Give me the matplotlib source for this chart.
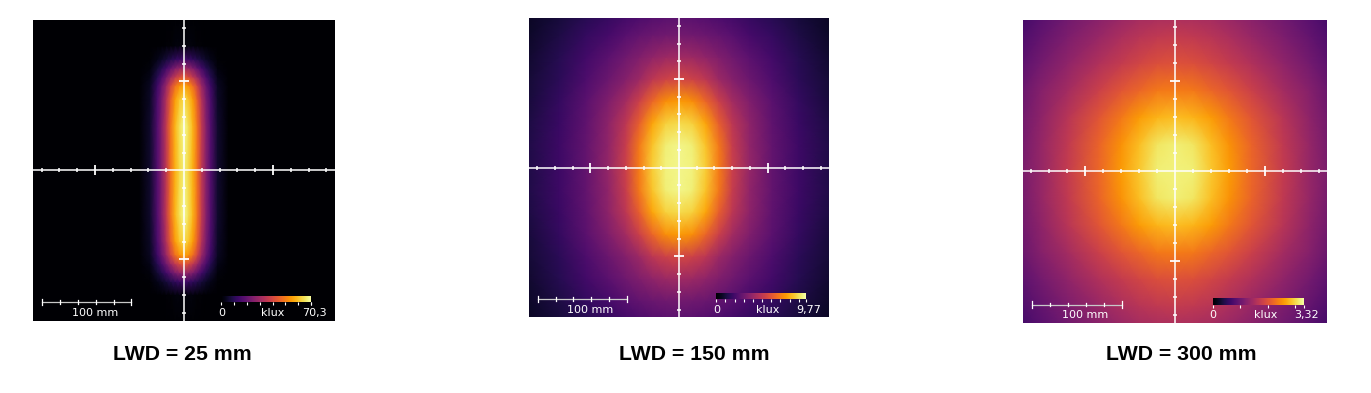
#!/usr/bin/env python3
"""Illuminance maps of a line light at three working distances."""

import numpy as np
import matplotlib
matplotlib.use('Agg')
import matplotlib.pyplot as plt
from matplotlib.ticker import FixedLocator, NullFormatter

W, H = 1371, 393

TITLES = ['LWD = 25 mm', 'LWD = 150 mm', 'LWD = 300 mm']
MAX_LABELS = ['70,3', '9,77', '3,32']
KLUX_MAX = [70.3, 9.77, 3.32]
BAR_STEP = [10, 1, 1]

# Values are percent of each map's maximum, one quadrant
X_25 = [0, 5, 10, 15, 20, 25, 30, 38, 50, 172]
Y_25 = [0, 50, 80, 95, 105, 115, 125, 140, 172]
PCT_25 = [
    [95, 90, 82, 68, 50, 36, 24, 8, 0, 0],
    [98, 92, 83, 69, 51, 36, 24, 8, 0, 0],
    [91, 86, 78, 64, 47, 33, 22, 7, 0, 0],
    [80, 76, 68, 56, 41, 29, 19, 6, 0, 0],
    [62, 58, 51, 42, 31, 22, 14, 4, 0, 0],
    [42, 39, 34, 27, 20, 14, 9, 2, 0, 0],
    [20, 18, 16, 13, 10, 7, 4, 1, 0, 0],
    [2, 2, 2, 1, 1, 0, 0, 0, 0, 0],
    [0, 0, 0, 0, 0, 0, 0, 0, 0, 0],
]

X_150 = [0, 15, 30, 45, 60, 80, 105, 135, 172]
Y_150 = [0, 25, 50, 75, 100, 125, 150, 172]
PCT_150 = [
    [97, 96, 88, 71, 54, 40, 28, 19, 12],
    [97, 95, 86, 70, 53, 39, 28, 19, 12],
    [91, 89, 80, 64, 50, 38, 27, 18, 11],
    [78, 75, 66, 54, 44, 35, 26, 17, 10],
    [57, 55, 50, 42, 36, 30, 23, 15, 9],
    [43, 42, 39, 35, 31, 26, 20, 14, 8],
    [32, 31, 30, 28, 25, 21, 17, 12, 7],
    [25, 25, 24, 22, 20, 17, 14, 10, 6],
]

X_300 = [0, 20, 40, 60, 85, 120, 150, 172]
Y_300 = [0, 30, 60, 90, 120, 150, 172]
PCT_300 = [
    [96, 95, 87, 78, 66, 52, 40, 33],
    [95, 93, 85, 76, 65, 51, 40, 32],
    [85, 83, 78, 70, 61, 49, 38, 31],
    [71, 70, 66, 61, 54, 44, 36, 29],
    [60, 59, 56, 52, 47, 39, 32, 26],
    [52, 51, 49, 46, 41, 34, 28, 23],
    [46, 45, 44, 41, 37, 31, 25, 20],
]

GRIDS = [(X_25, Y_25, PCT_25), (X_150, Y_150, PCT_150), (X_300, Y_300, PCT_300)]

# left, top, right, bottom, centre x, centre y, px per mm (all in image pixels)
PANELS = [
    (32.7, 20.0, 335.0, 320.7, 184.0, 170.3, 0.89),
    (529.0, 18.0, 829.0, 316.7, 679.0, 167.7, 0.887),
    (1023.0, 20.0, 1327.0, 323.0, 1175.3, 171.3, 0.90),
]
TITLE_POS = [(182, 355), (694, 355), (1181, 354.5)]

TEXT_FONT = ['DejaVu Sans']


def mirror(x, y, pct):
    """Unfold a quadrant table into the full map."""
    x = np.asarray(x, dtype=float)
    y = np.asarray(y, dtype=float)
    pct = np.asarray(pct, dtype=float)
    full = np.hstack([pct[:, :0:-1], pct])
    full = np.vstack([full[:0:-1], full])
    return np.r_[-x[:0:-1], x], np.r_[-y[:0:-1], y], full


def draw_panel(fig, i):
    left, top, right, bottom, cx, cy, scale = PANELS[i]
    ax = fig.add_axes([left / W, 1 - bottom / H, (right - left) / W, (bottom - top) / H])

    x, y, pct = mirror(*GRIDS[i])
    vmax = KLUX_MAX[i]
    mesh = ax.pcolormesh(x, y, pct * vmax / 100, cmap='inferno', vmin=0, vmax=vmax,
                         shading='gouraud', rasterized=True)
    ax.set_xlim((left - cx) / scale, (right - cx) / scale)
    ax.set_ylim((cy - bottom) / scale, (cy - top) / scale)

    # Crosshair is the axes itself, with mm ticks
    for name in ['top', 'right']:
        ax.spines[name].set_visible(False)
    for name in ['left', 'bottom']:
        ax.spines[name].set_position('zero')
        ax.spines[name].set_color('white')
        ax.spines[name].set_linewidth(1.1)
    major = [-100, 100]
    minor = [v for v in range(-160, 161, 20) if v not in (-100, 0, 100)]
    for axis in [ax.xaxis, ax.yaxis]:
        axis.set_major_locator(FixedLocator(major))
        axis.set_minor_locator(FixedLocator(minor))
        axis.set_major_formatter(NullFormatter())
    ax.tick_params(which='major', direction='inout', length=7, width=1.3, color='white')
    ax.tick_params(which='minor', direction='inout', length=3.5, width=1.1, color='white')

    # Scale bar
    ax.plot([-159, -59], [-148, -148], color='#c8c8c8', lw=0.9, zorder=4)
    for v in range(-159, -58, 20):
        h = 3.5 if v in (-159, -59) else 1.8
        ax.plot([v, v], [-148 - h, -148 + h], color='white', lw=0.9, zorder=4)
    ax.text(-100, -160, '100 mm', color='white', fontsize=8, family=TEXT_FONT,
            ha='center', va='center', zorder=5)

    # Colour bar
    cax = ax.inset_axes([42, -148, 101, 7], transform=ax.transData)
    cb = fig.colorbar(mesh, cax=cax, orientation='horizontal')
    cb.outline.set_visible(False)
    ticks = list(np.arange(0, vmax, BAR_STEP[i])) + [vmax]
    cb.set_ticks(ticks)
    cb.set_ticklabels([])
    cax.tick_params(axis='x', direction='out', length=2.5, width=0.8, color='white', pad=0)
    cax.minorticks_off()
    ax.text(42, -160, '0', color='white', fontsize=8, family=TEXT_FONT,
            ha='center', va='center', zorder=5)
    ax.text(100, -160, 'klux', color='white', fontsize=8, family=TEXT_FONT,
            ha='center', va='center', zorder=5)
    ax.text(160, -160, MAX_LABELS[i], color='white', fontsize=8, family=TEXT_FONT,
            ha='right', va='center', zorder=5)

    tx, ty = TITLE_POS[i]
    fig.text(tx / W, 1 - ty / H, TITLES[i], fontsize=15.3, fontweight='bold',
             family='Liberation Sans', color='black', ha='center', va='center')


def main():
    fig = plt.figure(figsize=(W / 100, H / 100), dpi=100, facecolor='white')
    for i in range(len(TITLES)):
        draw_panel(fig, i)
    fig.savefig('out.png', dpi=100)
    plt.close(fig)


if __name__ == '__main__':
    main()
